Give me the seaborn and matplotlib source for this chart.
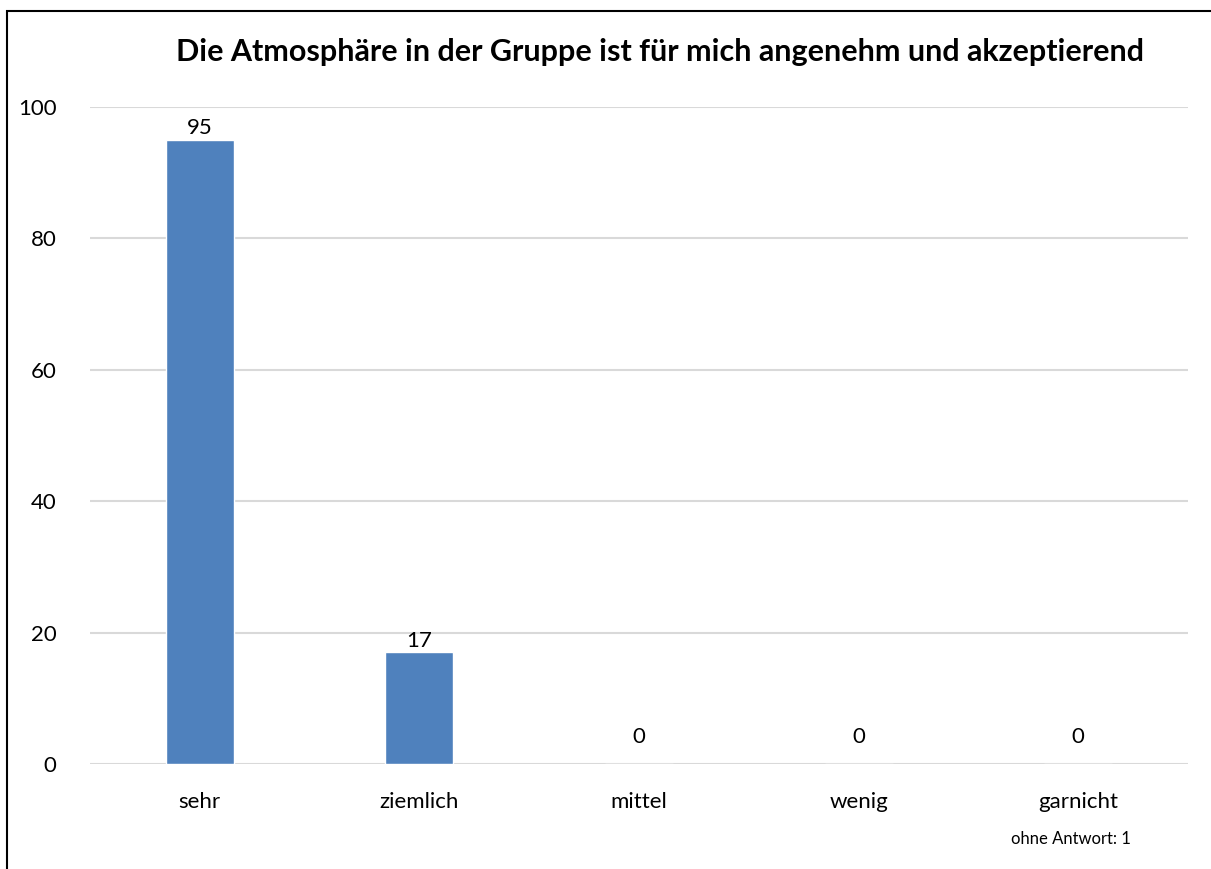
import matplotlib.pyplot as plt
import pandas as pd
import seaborn as sns
from matplotlib.patches import Rectangle

categories = ["sehr", "ziemlich", "mittel", "wenig", "garnicht"]
counts = [95, 17, 0, 0, 0]
no_answer = 1

title = "Die Atmosphäre in der Gruppe ist für mich angenehm und akzeptierend"


def main():
    sns.set_theme(style="white")
    plt.rcParams["font.family"] = ["Lato", "DejaVu Sans"]
    plt.rcParams["text.color"] = "black"

    df = pd.DataFrame({"category": categories, "count": counts})

    fig = plt.figure(figsize=(12.11, 8.69), dpi=100)
    ax = fig.add_axes([0.0743, 0.1208, 0.9067, 0.7561])

    sns.barplot(data=df, x="category", y="count", order=categories,
                color="#4F81BD", saturation=1, width=0.31, ax=ax)

    ax.set_ylim(0, 100)
    ax.set_yticks(range(0, 101, 20))
    ax.yaxis.grid(True, color="#D9D9D9", linewidth=1.5)
    ax.set_axisbelow(True)
    for side in ["top", "right", "left", "bottom"]:
        ax.spines[side].set_visible(False)
    ax.tick_params(axis="both", length=0, labelsize=16, colors="black")
    ax.tick_params(axis="x", pad=20)
    ax.tick_params(axis="y", pad=24)
    ax.set_xlabel("")
    ax.set_ylabel("")

    for container in ax.containers:
        labels = ax.bar_label(container, fontsize=16, padding=1, color="black")
        # zero bars get their labels a bit higher, like the original
        for ann in labels:
            if ann.get_text() == "0":
                ann.xyann = (0, 12)

    fig.text(0.545, 0.940, title, ha="center", va="center",
             fontsize=22, fontweight="bold", color="black")
    fig.text(0.884, 0.035, f"ohne Antwort: {no_answer}", ha="center",
             va="center", fontsize=12, color="black")

    fig.patches.append(Rectangle((7 / 1211, -0.1), 1.2, 0.1 + 1 - 11 / 869,
                                 transform=fig.transFigure, fill=False,
                                 edgecolor="black", linewidth=1.5))

    fig.savefig("out.png", dpi=100)


if __name__ == "__main__":
    main()
